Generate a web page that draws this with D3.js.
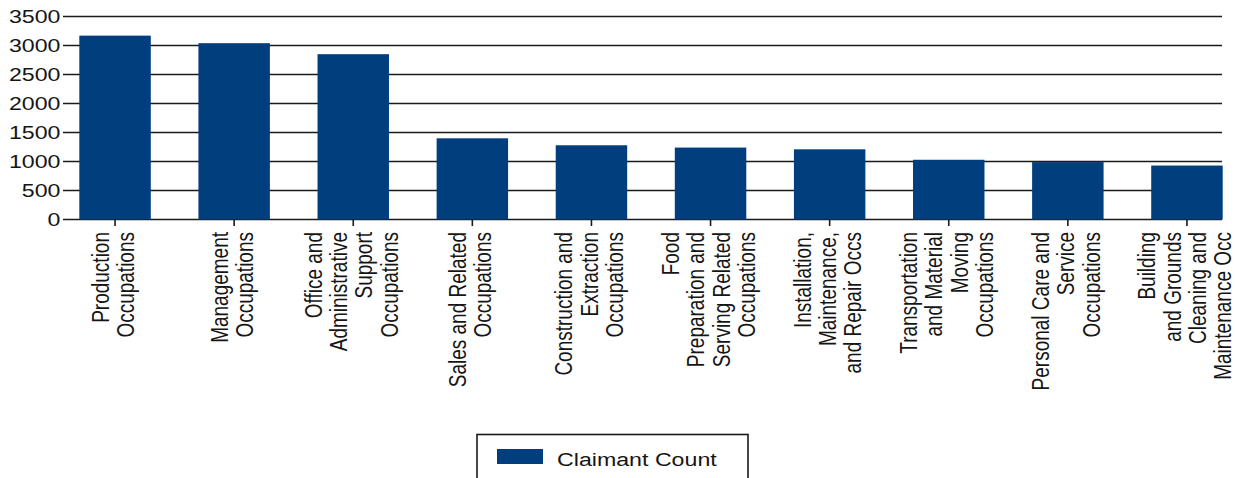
<!DOCTYPE html>
<html>
<head>
<meta charset="utf-8">
<script src="https://cdn.jsdelivr.net/npm/d3@7"></script>
<style>
	html, body { margin: 0; padding: 0; background: #fff; }
	svg { display: block; font-family: "Liberation Sans", Arial, sans-serif; }
</style>
</head>
<body>
<div id="chart"></div>
<script>
'use strict';

// categories, one entry per line of the rotated label
const categories = [
	["Production", "Occupations"],
	["Management", "Occupations"],
	["Office and", "Administrative", "Support", "Occupations"],
	["Sales and Related", "Occupations"],
	["Construction and", "Extraction", "Occupations"],
	["Food", "Preparation and", "Serving Related", "Occupations"],
	["Installation,", "Maintenance,", "and Repair Occs"],
	["Transportation", "and Material", "Moving", "Occupations"],
	["Personal Care and", "Service", "Occupations"],
	["Building", "and Grounds", "Cleaning and", "Maintenance Occ"]
];
const claimantCount = [3170, 3040, 2850, 1400, 1280, 1240, 1210, 1030, 990, 930];
const yTicks = [0, 500, 1000, 1500, 2000, 2500, 3000, 3500];
const seriesName = "Claimant Count";

const width = 1235, height = 478;
const barColor = "#003e7e";
const sx = 1.22;      // the original picture is stretched sideways
const fontSize = 19;

const keys = categories.map(d => d.join(" "));

const svg = d3.select("#chart")
	.append("svg")
		.attr("width", width)
		.attr("height", height);

const xScale = d3.scaleBand()
	.domain(keys)
	.range([55.5, 1246.5])
	.paddingInner(0.4)
	.paddingOuter(0.2)
	;

const yScale = d3.scaleLinear()
	.domain([0, 3500])
	.range([219.5, 16.5])
	;

// gridlines
svg.append("g")
	.selectAll("line")
	.data(yTicks)
	.join("line")
		.attr("x1", 63)
		.attr("x2", 1222)
		.attr("y1", d => yScale(d))
		.attr("y2", d => yScale(d))
		.attr("stroke", "#1a1a1a")
		.attr("stroke-width", 1.6);

// y labels
svg.append("g")
	.selectAll("text")
	.data(yTicks)
	.join("text")
		.attr("transform", d => `translate(60.5,${yScale(d)}) scale(${sx},1)`)
		.attr("dy", "0.36em")
		.attr("text-anchor", "end")
		.attr("font-size", fontSize)
		.attr("fill", "#151515")
		.text(d => d);

// bars
svg.append("g")
	.selectAll("rect")
	.data(claimantCount)
	.join("rect")
		.attr("x", (d, i) => xScale(keys[i]))
		.attr("y", d => yScale(d))
		.attr("width", xScale.bandwidth())
		.attr("height", d => yScale(0) - yScale(d))
		.attr("fill", barColor);

// x tick marks
svg.append("g")
	.selectAll("line")
	.data(keys)
	.join("line")
		.attr("x1", d => xScale(d) + xScale.bandwidth() / 2)
		.attr("x2", d => xScale(d) + xScale.bandwidth() / 2)
		.attr("y1", yScale(0))
		.attr("y2", yScale(0) + 6.5)
		.attr("stroke", "#1a1a1a")
		.attr("stroke-width", 1.6);

// rotated category labels, every line flush with the top
const lineH = 20.8;
svg.append("g")
	.selectAll("text")
	.data(categories)
	.join("text")
		.attr("transform", (d, i) =>
			`translate(${xScale(keys[i]) + xScale.bandwidth() / 2 - 2},232) scale(${sx},1) rotate(-90)`)
		.attr("text-anchor", "end")
		.attr("font-size", fontSize)
		.attr("fill", "#151515")
		.each(function(lines) {
			const n = lines.length;
			d3.select(this).selectAll("tspan")
				.data(lines)
				.join("tspan")
					.attr("x", 0)
					.attr("y", (l, j) => (j - (n - 1) / 2) * lineH)
					.attr("dy", "0.36em")
					.text(l => l);
		});

// legend
const legend = svg.append("g");
legend.append("rect")
	.attr("x", 477)
	.attr("y", 434.5)
	.attr("width", 271)
	.attr("height", 60)
	.attr("fill", "#fff")
	.attr("stroke", "#1a1a1a")
	.attr("stroke-width", 1.6);
legend.append("rect")
	.attr("x", 497)
	.attr("y", 449)
	.attr("width", 46)
	.attr("height", 15)
	.attr("fill", barColor);
legend.append("text")
	.attr("transform", `translate(557,465.5) scale(${sx},1)`)
	.attr("font-size", fontSize)
	.attr("fill", "#151515")
	.text(seriesName);
</script>
</body>
</html>
